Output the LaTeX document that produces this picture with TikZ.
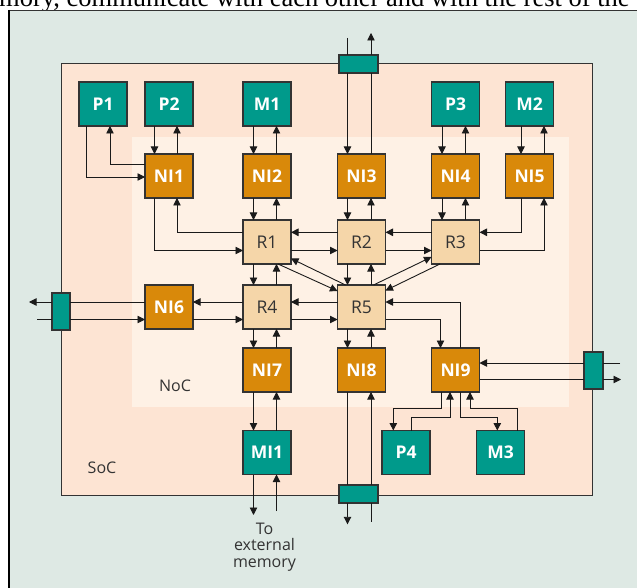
\documentclass[tikz,border=0pt]{standalone}
\usepackage{fontspec}
\setmainfont{Liberation Serif}
\newfontfamily\nodefont{Open Sans}
\usetikzlibrary{arrows.meta}
\definecolor{bgc}{HTML}{DEE9E4}
\definecolor{socc}{HTML}{FDE4D3}
\definecolor{nocc}{HTML}{FEF1E5}
\definecolor{tealc}{HTML}{009A8B}
\definecolor{orc}{HTML}{D9890A}
\definecolor{rtc}{HTML}{F5D6A9}
\definecolor{edgec}{HTML}{333333}
\definecolor{linec}{HTML}{1A1A1A}
\begin{document}
\begin{tikzpicture}[x=1pt,y=-1pt,
  box/.style={draw=edgec,line width=1.1pt,minimum width=48pt,minimum height=44pt,inner sep=0pt,outer sep=0pt},
  pnode/.style={box,fill=tealc,text=white,font=\nodefont\bfseries\fontsize{17.5}{20}\selectfont},
  ninode/.style={box,fill=orc,text=white,font=\nodefont\bfseries\fontsize{17.5}{20}\selectfont},
  rnode/.style={box,fill=rtc,text=black!80,font=\nodefont\fontsize{17.5}{20}\selectfont},
  cbox/.style={draw=edgec,line width=1.1pt,fill=tealc,inner sep=0pt,outer sep=0pt},
  arr/.style={draw=linec,line width=0.9pt,-{Triangle[length=7.5pt,width=7.5pt]}},
  ln/.style={draw=linec,line width=0.9pt},
  lbl/.style={font=\nodefont\fontsize{16}{16.5}\selectfont,text=black!80,inner sep=0pt,align=center}]
\useasboundingbox (0,0) rectangle (637,588);
\begin{scope}
  \clip (0,0) rectangle (637,588);
  \node[anchor=base west,inner sep=0pt,font=\fontsize{26.5}{30}\selectfont] (toptext) at (-1,6.5) {mory, communicate with each other and with the rest of the};
  \fill[bgc] (8,10) rectangle (640,590);
  \draw[edgec,line width=1.2pt] (8,10.6) -- (640,10.6);
  \draw[black,line width=2pt] (8.6,10) -- (8.6,590);
\end{scope}
% SoC and NoC regions
\draw[fill=socc,draw=edgec,line width=1pt] (61,64) rectangle (592,495);
\fill[nocc] (132,137) rectangle (569,407);
\node[lbl] (noc) at (175,386) {NoC};
\node[lbl] (soc) at (102,468) {SoC};
% nodes
\node[pnode] (P1) at (103,104) {P1};
\node[pnode] (P2) at (169,104) {P2};
\node[pnode] (M1) at (267,104) {M1};
\node[pnode] (P3) at (455.5,104) {P3};
\node[pnode] (M2) at (529.5,104) {M2};
\node[ninode] (NI1) at (169,176) {NI1};
\node[ninode] (NI2) at (267,176) {NI2};
\node[ninode] (NI3) at (361.5,176) {NI3};
\node[ninode] (NI4) at (455.5,176) {NI4};
\node[ninode] (NI5) at (529.5,176) {NI5};
\node[rnode] (R1) at (267,242) {R1};
\node[rnode] (R2) at (361.5,242) {R2};
\node[rnode] (R3) at (455.5,242) {R3};
\node[ninode] (NI6) at (169,307) {NI6};
\node[rnode] (R4) at (267,307) {R4};
\node[rnode] (R5) at (361.5,307) {R5};
\node[ninode] (NI7) at (267,370) {NI7};
\node[ninode] (NI8) at (361.5,370) {NI8};
\node[ninode] (NI9) at (455.5,370) {NI9};
\node[pnode] (MI1) at (267,452.5) {MI1};
\node[pnode] (P4) at (406,452.5) {P4};
\node[pnode] (M3) at (500.5,452.5) {M3};
\node[cbox,minimum width=39pt,minimum height=18pt] (topbox) at (358.5,64) {};
\node[cbox,minimum width=39pt,minimum height=18pt] (botbox) at (358.5,494) {};
\node[cbox,minimum width=18pt,minimum height=37pt] (lbox) at (61,311.5) {};
\node[cbox,minimum width=19pt,minimum height=37pt] (rbox) at (593.5,370.5) {};
\node[lbl] (ext) at (264.5,547) {To\\external\\memory};
% helper coordinates
\coordinate (c1a) at (154.5,0); \coordinate (c1b) at (177,0);
\coordinate (c2a) at (253.5,0); \coordinate (c2b) at (276.5,0);
\coordinate (c3a) at (347.5,0); \coordinate (c3b) at (371,0);
\coordinate (c4a) at (442,0);   \coordinate (c4b) at (465.5,0);
\coordinate (c5a) at (521,0);   \coordinate (c5b) at (544,0);
\coordinate (r1a) at (0,232.3); \coordinate (r1b) at (0,250.5);
\coordinate (r2a) at (0,302);   \coordinate (r2b) at (0,319.5);
\coordinate (r3a) at (0,363);   \coordinate (r3b) at (0,379.5);
\coordinate (p1x) at (86,0);    \coordinate (p1y) at (0,177);
\coordinate (p1u) at (110,0);   \coordinate (p1v) at (0,164.3);
\coordinate (topL) at (347.5,38); \coordinate (topR) at (371,33);
\coordinate (botL) at (347.5,524.3); \coordinate (botR) at (371,521.7);
\coordinate (memL) at (253.5,515); \coordinate (memR) at (276.5,511);
\coordinate (lftL) at (29,302); \coordinate (lftR) at (37,319.5);
\coordinate (rgtA) at (620,363); \coordinate (rgtB) at (621,379.5);
\coordinate (n9a) at (440.5,0); \coordinate (n9b) at (460.5,0);
\coordinate (b1) at (441,0); \coordinate (b2) at (450,0);
\coordinate (b3) at (460.3,0); \coordinate (b4) at (470,0);
\coordinate (yb1) at (0,408.3); \coordinate (yb2) at (0,417.3);
\coordinate (p4a) at (393.3,0); \coordinate (p4b) at (411.5,0);
\coordinate (m3a) at (497.3,0); \coordinate (m3b) at (517,0);
\coordinate (d1) at (0,291); \coordinate (d2) at (0,258.5);
\coordinate (d3) at (0,257); \coordinate (d4) at (0,290.5);
% P1 / NI1
\draw[arr] (P1.south -| p1x) |- (NI1.west |- p1y);
\draw[arr] (NI1.west |- p1v) -| (P1.south -| p1u);
% vertical pairs
\draw[arr] (P2.south -| c1a) -- (NI1.north -| c1a);
\draw[arr] (NI1.north -| c1b) -- (P2.south -| c1b);
\draw[arr] (M1.south -| c2a) -- (NI2.north -| c2a);
\draw[arr] (NI2.north -| c2b) -- (M1.south -| c2b);
\draw[arr] (P3.south -| c4a) -- (NI4.north -| c4a);
\draw[arr] (NI4.north -| c4b) -- (P3.south -| c4b);
\draw[arr] (M2.south -| c5a) -- (NI5.north -| c5a);
\draw[arr] (NI5.north -| c5b) -- (M2.south -| c5b);
\draw[arr] (NI2.south -| c2a) -- (R1.north -| c2a);
\draw[arr] (R1.north -| c2b) -- (NI2.south -| c2b);
\draw[arr] (NI3.south -| c3a) -- (R2.north -| c3a);
\draw[arr] (R2.north -| c3b) -- (NI3.south -| c3b);
\draw[arr] (NI4.south -| c4a) -- (R3.north -| c4a);
\draw[arr] (R3.north -| c4b) -- (NI4.south -| c4b);
\draw[arr] (R1.south -| c2a) -- (R4.north -| c2a);
\draw[arr] (R4.north -| c2b) -- (R1.south -| c2b);
\draw[arr] (R2.south -| c3a) -- (R5.north -| c3a);
\draw[arr] (R5.north -| c3b) -- (R2.south -| c3b);
\draw[arr] (R4.south -| c2a) -- (NI7.north -| c2a);
\draw[arr] (NI7.north -| c2b) -- (R4.south -| c2b);
\draw[arr] (R5.south -| c3a) -- (NI8.north -| c3a);
\draw[arr] (NI8.north -| c3b) -- (R5.south -| c3b);
\draw[arr] (NI7.south -| c2a) -- (MI1.north -| c2a);
\draw[arr] (MI1.north -| c2b) -- (NI7.south -| c2b);
\draw[arr] (MI1.south -| c2a) -- (memL);
\draw[arr] (memR) -- (MI1.south -| c2b);
% top connector
\draw[ln] (topL) -- (topbox.north -| c3a);
\draw[arr] (topbox.south -| c3a) -- (NI3.north -| c3a);
\draw[ln] (NI3.north -| c3b) -- (topbox.south -| c3b);
\draw[arr] (topbox.north -| c3b) -- (topR);
% bottom connector
\draw[ln] (NI8.south -| c3a) -- (botbox.north -| c3a);
\draw[arr] (botbox.south -| c3a) -- (botL);
\draw[ln] (botR) -- (botbox.south -| c3b);
\draw[arr] (botbox.north -| c3b) -- (NI8.south -| c3b);
% NI1 / R1 and NI5 / R3
\draw[arr] (NI1.south -| c1a) |- (R1.west |- r1b);
\draw[arr] (R1.west |- r1a) -| (NI1.south -| c1b);
\draw[arr] (NI5.south -| c5a) |- (R3.east |- r1a);
\draw[arr] (R3.east |- r1b) -| (NI5.south -| c5b);
% horizontal router links
\draw[arr] (R2.west |- r1a) -- (R1.east |- r1a);
\draw[arr] (R1.east |- r1b) -- (R2.west |- r1b);
\draw[arr] (R3.west |- r1a) -- (R2.east |- r1a);
\draw[arr] (R2.east |- r1b) -- (R3.west |- r1b);
\draw[arr] (R5.west |- r2a) -- (R4.east |- r2a);
\draw[arr] (R4.east |- r2b) -- (R5.west |- r2b);
\draw[arr] (R4.west |- r2a) -- (NI6.east |- r2a);
\draw[arr] (NI6.east |- r2b) -- (R4.west |- r2b);
% left connector
\draw[ln] (NI6.west |- r2a) -- (lbox.east |- r2a);
\draw[arr] (lbox.west |- r2a) -- (lftL);
\draw[ln] (lftR) -- (lbox.west |- r2b);
\draw[arr] (lbox.east |- r2b) -- (NI6.west |- r2b);
% right connector
\draw[ln] (rgtA) -- (rbox.east |- r3a);
\draw[arr] (rbox.west |- r3a) -- (NI9.east |- r3a);
\draw[ln] (NI9.east |- r3b) -- (rbox.west |- r3b);
\draw[arr] (rbox.east |- r3b) -- (rgtB);
% R5 / NI9
\draw[arr] (R5.east |- r2b) -| (NI9.north -| n9a);
\draw[arr] (NI9.north -| n9b) |- (R5.east |- r2a);
% NI9 / P4 / M3
\draw[arr] (NI9.south -| b1) -- (b1 |- yb1) -- (p4a |- yb1) -- (P4.north -| p4a);
\draw[arr] (P4.north -| p4b) -- (p4b |- yb2) -- (b2 |- yb2) -- (NI9.south -| b2);
\draw[arr] (NI9.south -| b3) -- (b3 |- yb2) -- (m3a |- yb2) -- (M3.north -| m3a);
\draw[arr] (M3.north -| m3b) -- (m3b |- yb1) -- (b4 |- yb1) -- (NI9.south -| b4);
% diagonals
\draw[arr] ([xshift=11pt]R1.south) -- (R5.west |- d1);
\draw[arr] ([xshift=-16pt]R5.north) -- (R1.east |- d2);
\draw[arr] ([xshift=12pt]R5.north) -- (R3.west |- d3);
\draw[arr] ([xshift=-15.5pt]R3.south) -- (R5.east |- d4);
\end{tikzpicture}
\end{document}
